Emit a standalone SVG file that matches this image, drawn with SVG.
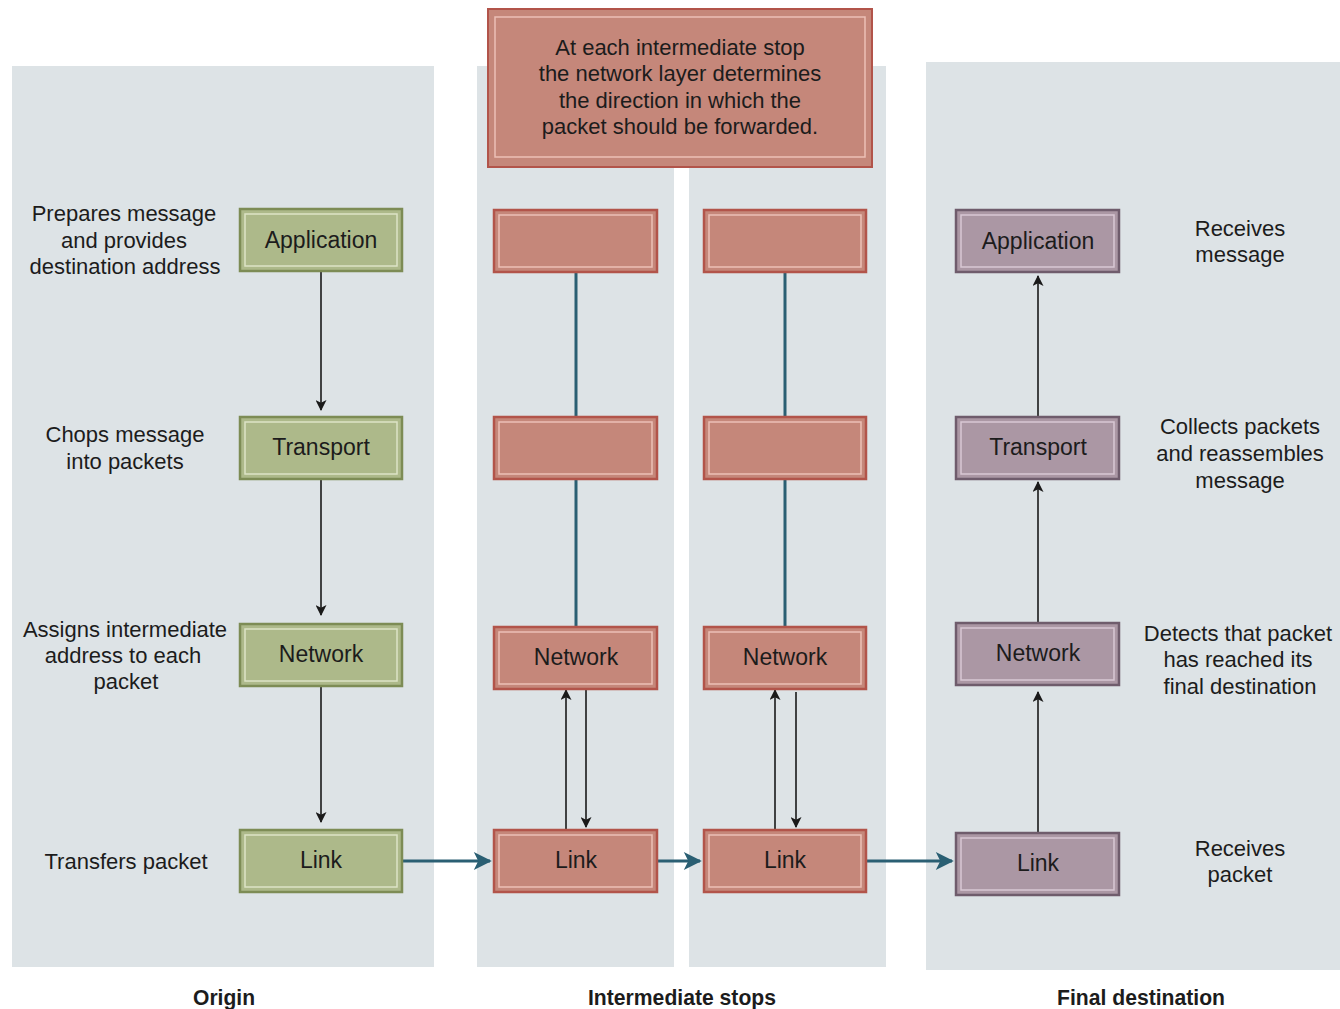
<svg xmlns="http://www.w3.org/2000/svg" width="1340" height="1009" viewBox="0 0 1340 1009">
<defs>
<style>
.panel{fill:#dde3e6}
.t{font-family:"Liberation Sans",Arial,sans-serif;font-size:22px;fill:#1c1c1c;text-anchor:middle;dominant-baseline:central}
.b{font-size:23px}
.bt{font-family:"Liberation Sans",Arial,sans-serif;font-size:22px;font-weight:bold;fill:#1c1c1c;text-anchor:middle;dominant-baseline:central}
.g{fill:#adb98a;stroke:#7d8c55;stroke-width:2.5}
.gi{fill:none;stroke:#dde3c6;stroke-width:1.5}
.r{fill:#c5877a;stroke:#b2544a;stroke-width:2.5}
.ri{fill:none;stroke:#ecc0b6;stroke-width:1.5}
.p{fill:#ab97a4;stroke:#6f5c6c;stroke-width:2.5}
.pi{fill:none;stroke:#d9c8d4;stroke-width:1.5}
.k{stroke:#1a1a1a;stroke-width:1.6;fill:none}
.teal{stroke:#2a5f73;stroke-width:3;fill:none}
</style>
<marker id="ah" viewBox="0 0 10 10" refX="9" refY="5" markerWidth="13" markerHeight="11" markerUnits="userSpaceOnUse" orient="auto">
<path d="M0,0 L10,5 L0,10 L2.5,5 Z" fill="#1a1a1a"/>
</marker>
<marker id="th" viewBox="0 0 10 10" refX="9" refY="5" markerWidth="22" markerHeight="18" markerUnits="userSpaceOnUse" orient="auto">
<path d="M0,0 L10,5 L0,10 L2.5,5 Z" fill="#2a5f73"/>
</marker>
</defs>
<rect width="1340" height="1009" fill="#ffffff"/>
<g id="panels">
<rect class="panel" x="12" y="66" width="422" height="901"/>
<rect class="panel" x="477" y="66" width="197" height="901"/>
<rect class="panel" x="689" y="66" width="197" height="901"/>
<rect class="panel" x="926" y="62" width="414" height="908"/>
</g>
<g id="connectors">
<line class="k" x1="321" y1="272" x2="321" y2="410" marker-end="url(#ah)"/>
<line class="k" x1="321" y1="480" x2="321" y2="615" marker-end="url(#ah)"/>
<line class="k" x1="321" y1="687" x2="321" y2="822" marker-end="url(#ah)"/>
<line class="teal" x1="576" y1="272" x2="576" y2="417"/>
<line class="teal" x1="576" y1="479" x2="576" y2="627"/>
<line class="teal" x1="785" y1="272" x2="785" y2="417"/>
<line class="teal" x1="785" y1="479" x2="785" y2="627"/>
<line class="k" x1="566" y1="830" x2="566" y2="690" marker-end="url(#ah)"/>
<line class="k" x1="586" y1="690" x2="586" y2="827" marker-end="url(#ah)"/>
<line class="k" x1="775" y1="830" x2="775" y2="690" marker-end="url(#ah)"/>
<line class="k" x1="796" y1="692" x2="796" y2="827" marker-end="url(#ah)"/>
<line class="k" x1="1038" y1="417" x2="1038" y2="276" marker-end="url(#ah)"/>
<line class="k" x1="1038" y1="623" x2="1038" y2="482" marker-end="url(#ah)"/>
<line class="k" x1="1038" y1="833" x2="1038" y2="692" marker-end="url(#ah)"/>
<line class="teal" x1="403" y1="861" x2="490" y2="861" marker-end="url(#th)"/>
<line class="teal" x1="658" y1="861" x2="700" y2="861" marker-end="url(#th)"/>
<line class="teal" x1="867" y1="861" x2="952" y2="861" marker-end="url(#th)"/>
</g>
<g id="note">
<rect x="488" y="9" width="384" height="158" fill="#c5877a" stroke="#b2544a" stroke-width="2"/>
<rect x="495" y="17" width="370" height="140" fill="none" stroke="#ecc0b6" stroke-width="1.5"/>
<text class="t" x="680" y="47">At each intermediate stop</text>
<text class="t" x="680" y="73">the network layer determines</text>
<text class="t" x="680" y="100">the direction in which the</text>
<text class="t" x="680" y="126">packet should be forwarded.</text>
</g>
<g id="origin-application"><rect class="g" x="240" y="209" width="162" height="62"/><rect class="gi" x="245" y="214" width="152" height="52"/><text class="t b" x="321" y="240">Application</text></g>
<g id="origin-transport"><rect class="g" x="240" y="417" width="162" height="62"/><rect class="gi" x="245" y="422" width="152" height="52"/><text class="t b" x="321" y="447">Transport</text></g>
<g id="origin-network"><rect class="g" x="240" y="624" width="162" height="62"/><rect class="gi" x="245" y="629" width="152" height="52"/><text class="t b" x="321" y="654">Network</text></g>
<g id="origin-link"><rect class="g" x="240" y="830" width="162" height="62"/><rect class="gi" x="245" y="835" width="152" height="52"/><text class="t b" x="321" y="860">Link</text></g>
<g id="stop1-application"><rect class="r" x="494" y="210" width="163" height="62"/><rect class="ri" x="499" y="215" width="153" height="52"/></g>
<g id="stop1-transport"><rect class="r" x="494" y="417" width="163" height="62"/><rect class="ri" x="499" y="422" width="153" height="52"/></g>
<g id="stop1-network"><rect class="r" x="494" y="627" width="163" height="62"/><rect class="ri" x="499" y="632" width="153" height="52"/><text class="t b" x="576" y="657">Network</text></g>
<g id="stop1-link"><rect class="r" x="494" y="830" width="163" height="62"/><rect class="ri" x="499" y="835" width="153" height="52"/><text class="t b" x="576" y="860">Link</text></g>
<g id="stop2-application"><rect class="r" x="704" y="210" width="162" height="62"/><rect class="ri" x="709" y="215" width="152" height="52"/></g>
<g id="stop2-transport"><rect class="r" x="704" y="417" width="162" height="62"/><rect class="ri" x="709" y="422" width="152" height="52"/></g>
<g id="stop2-network"><rect class="r" x="704" y="627" width="162" height="62"/><rect class="ri" x="709" y="632" width="152" height="52"/><text class="t b" x="785" y="657">Network</text></g>
<g id="stop2-link"><rect class="r" x="704" y="830" width="162" height="62"/><rect class="ri" x="709" y="835" width="152" height="52"/><text class="t b" x="785" y="860">Link</text></g>
<g id="dest-application"><rect class="p" x="956" y="210" width="163" height="62"/><rect class="pi" x="961" y="215" width="153" height="52"/><text class="t b" x="1038" y="241">Application</text></g>
<g id="dest-transport"><rect class="p" x="956" y="417" width="163" height="62"/><rect class="pi" x="961" y="422" width="153" height="52"/><text class="t b" x="1038" y="447">Transport</text></g>
<g id="dest-network"><rect class="p" x="956" y="623" width="163" height="62"/><rect class="pi" x="961" y="628" width="153" height="52"/><text class="t b" x="1038" y="653">Network</text></g>
<g id="dest-link"><rect class="p" x="956" y="833" width="163" height="62"/><rect class="pi" x="961" y="838" width="153" height="52"/><text class="t b" x="1038" y="863">Link</text></g>
<g id="labels-left">
<text class="t" x="124" y="213">Prepares message</text>
<text class="t" x="124" y="240">and provides</text>
<text class="t" x="125" y="266">destination address</text>
<text class="t" x="125" y="434">Chops message</text>
<text class="t" x="125" y="461">into packets</text>
<text class="t" x="125" y="629">Assigns intermediate</text>
<text class="t" x="123" y="655">address to each</text>
<text class="t" x="126" y="681">packet</text>
<text class="t" x="126" y="861">Transfers packet</text>
</g>
<g id="labels-right">
<text class="t" x="1240" y="228">Receives</text>
<text class="t" x="1240" y="254">message</text>
<text class="t" x="1240" y="426">Collects packets</text>
<text class="t" x="1240" y="453">and reassembles</text>
<text class="t" x="1240" y="480">message</text>
<text class="t" x="1238" y="633">Detects that packet</text>
<text class="t" x="1238" y="659">has reached its</text>
<text class="t" x="1240" y="686">final destination</text>
<text class="t" x="1240" y="848">Receives</text>
<text class="t" x="1240" y="874">packet</text>
</g>
<g id="captions">
<text class="bt" x="224" y="997" textLength="62" lengthAdjust="spacingAndGlyphs">Origin</text>
<text class="bt" x="682" y="997" textLength="188" lengthAdjust="spacingAndGlyphs">Intermediate stops</text>
<text class="bt" x="1141" y="997" textLength="168" lengthAdjust="spacingAndGlyphs">Final destination</text>
</g>
</svg>
